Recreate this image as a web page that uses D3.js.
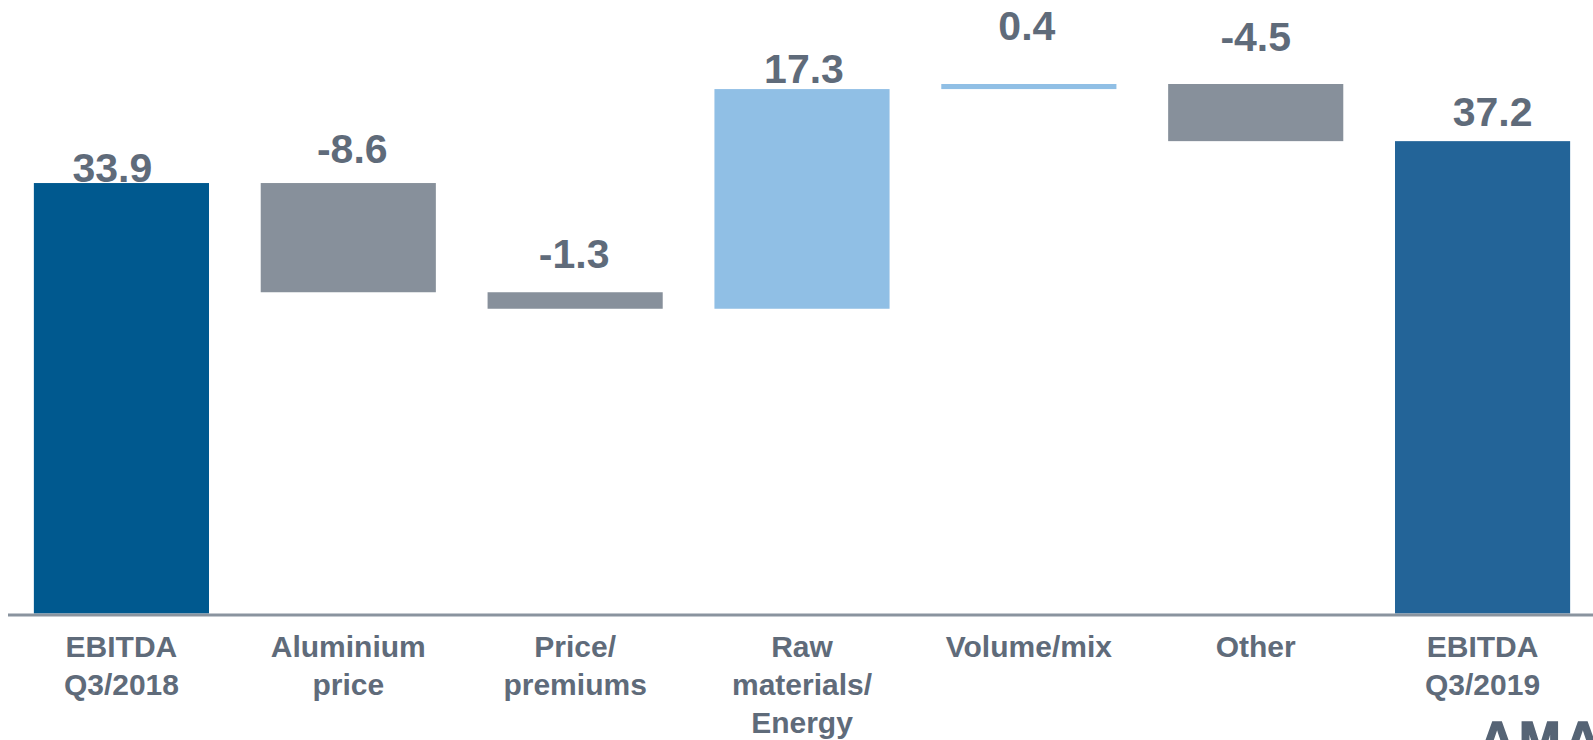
<!DOCTYPE html>
<html>
<head>
<meta charset="utf-8">
<script src="https://cdn.jsdelivr.net/npm/d3@7"></script>
<style>
  body { margin: 0; background: #fff; }
  svg { display: block; }
  text { font-family: "Liberation Sans", Arial, sans-serif; font-weight: bold; }
</style>
</head>
<body>
<div id="chart"></div>
<script>
// categories, one label line per entry
const categories = ['EBITDA Q3/2018', 'Aluminium price', 'Price/ premiums',
  'Raw materials/ Energy', 'Volume/mix', 'Other', 'EBITDA Q3/2019'];
const categoryLines = [['EBITDA', 'Q3/2018'], ['Aluminium', 'price'], ['Price/', 'premiums'],
  ['Raw', 'materials/', 'Energy'], ['Volume/mix'], ['Other'], ['EBITDA', 'Q3/2019']];
// start total, changes, end total
const values = [33.9, -8.6, -1.3, 17.3, 0.4, -4.5, 37.2];
const kinds = ['total', 'delta', 'delta', 'delta', 'delta', 'delta', 'total'];

// label placement tweaks (px), kept apart from the data
const labelGap = [1, 20, 24, 6, 44, 33, 15];
const labelShift = [-9, 4, -1, 2, -2, 0, 10];

const width = 1593;
const height = 740;
const baseY = 613.5;
const topY = 84;

const colors = {
  startTotal: '#00598f',
  endTotal: '#236498',
  up: '#90bfe5',
  down: '#87909b'
};
const textColor = '#5f6b7a';

// build waterfall steps
var running = 0;
var steps = values.map(function(v, i) {
  var s;
  if (kinds[i] === 'total') {
    s = { lo: 0, hi: v };
    running = v;
  } else {
    var next = running + v;
    s = { lo: Math.min(running, next), hi: Math.max(running, next) };
    running = next;
  }
  s.value = v;
  s.kind = kinds[i];
  s.cat = categories[i];
  s.i = i;
  return s;
});

var maxTop = d3.max(steps, function(d) { return d.hi; });

var x = d3.scaleBand()
  .domain(categories)
  .range([8, 1596])
  .paddingInner(0.228)
  .paddingOuter(0.114);

var y = d3.scaleLinear()
  .domain([0, maxTop])
  .range([baseY, topY]);

var svg = d3.select('#chart').append('svg')
  .attr('width', width)
  .attr('height', height)
  .attr('viewBox', '0 0 ' + width + ' ' + height);

function barColor(d) {
  if (d.kind === 'total') return d.i === 0 ? colors.startTotal : colors.endTotal;
  return d.value >= 0 ? colors.up : colors.down;
}

svg.append('g').selectAll('rect')
  .data(steps)
  .enter().append('rect')
  .attr('x', function(d) { return x(d.cat); })
  .attr('width', x.bandwidth())
  .attr('y', function(d) { return y(d.hi); })
  .attr('height', function(d) { return y(d.lo) - y(d.hi); })
  .attr('fill', barColor);

// baseline
svg.append('line')
  .attr('x1', 8)
  .attr('x2', width)
  .attr('y1', baseY + 1.5)
  .attr('y2', baseY + 1.5)
  .attr('stroke', '#8a949f')
  .attr('stroke-width', 3);

// value labels (plain hyphen for negatives, as in the source)
svg.append('g').selectAll('text')
  .data(steps)
  .enter().append('text')
  .attr('x', function(d) { return x(d.cat) + x.bandwidth() / 2 + labelShift[d.i]; })
  .attr('y', function(d) { return y(d.hi) - labelGap[d.i]; })
  .attr('text-anchor', 'middle')
  .attr('fill', textColor)
  .style('font-size', '41px')
  .text(function(d) { return d.value.toFixed(1); });

// category labels
var catLabels = svg.append('g').selectAll('text')
  .data(steps)
  .enter().append('text')
  .attr('x', function(d) { return x(d.cat) + x.bandwidth() / 2; })
  .attr('y', 657)
  .attr('text-anchor', 'middle')
  .attr('fill', textColor)
  .style('font-size', '30px');

catLabels.each(function(d) {
  var t = d3.select(this);
  categoryLines[d.i].forEach(function(line, k) {
    t.append('tspan')
      .attr('x', x(d.cat) + x.bandwidth() / 2)
      .attr('dy', k === 0 ? 0 : 38)
      .text(line);
  });
});

// corner logo, cut off by the page edge
svg.append('text')
  .attr('x', 1479)
  .attr('y', 757)
  .attr('fill', '#566475')
  .attr('stroke', '#566475')
  .attr('stroke-width', 1.5)
  .style('font-size', '50px')
  .style('letter-spacing', '4px')
  .text('AMAG');
</script>
</body>
</html>
